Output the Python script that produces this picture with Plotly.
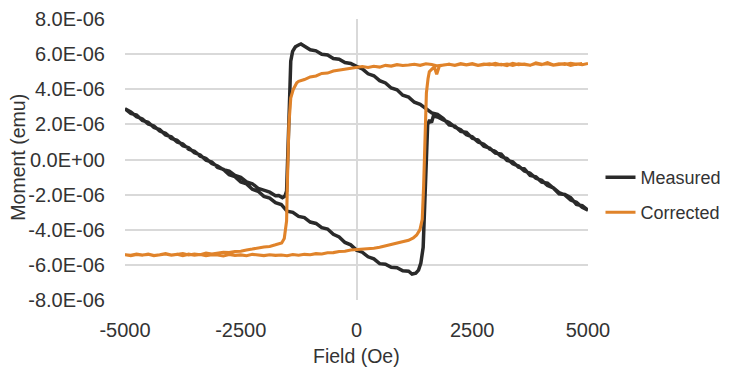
import plotly.graph_objects as go

# ---- data (moment in units of 1E-6 emu) ----
# Measured: branch with field sweeping down from +5000 Oe to -5000 Oe
meas_down_field = [
    5000, 4875, 4750, 4625, 4500, 4375, 4250, 4125, 4000, 3875, 3750, 3625, 3500, 3375,
    3250, 3125, 3000, 2875, 2750, 2625, 2500, 2375, 2250, 2125, 2000, 1875, 1750, 1625,
    1500, 1375, 1250, 1125, 1000, 875, 750, 625, 500, 375, 250, 125, 0, -125, -250,
    -375, -500, -625, -750, -875, -1000, -1125, -1200, -1250, -1320, -1380, -1420,
    -1450, -1480, -1510, -1545, -1600, -1680, -1750, -1875, -2000, -2125, -2250, -2375,
    -2500, -2625, -2750, -2875, -3000, -3125, -3250, -3375, -3500, -3625, -3750, -3875,
    -4000, -4125, -4250, -4375, -4500, -4625, -4750, -4875, -5000,
]
meas_down_moment = [
    -2.89, -2.63, -2.56, -2.17, -1.99, -1.95, -1.62, -1.35, -1.29, -0.99, -0.91, -0.53,
    -0.44, -0.14, -0.06, 0.31, 0.37, 0.65, 0.75, 1.11, 1.21, 1.54, 1.60, 1.90, 1.97, 2.33,
    2.57, 2.65, 2.90, 3.14, 3.26, 3.55, 3.66, 3.97, 4.07, 4.36, 4.49, 4.77, 4.88, 5.16,
    5.30, 5.47, 5.52, 5.71, 5.75, 5.95, 5.99, 6.19, 6.25, 6.45, 6.58, 6.52, 6.42, 6.15,
    5.60, 3.00, 0.00, -1.80, -2.08, -2.17, -2.05, -2.06, -1.86, -1.76, -1.64, -1.38,
    -1.28, -1.02, -0.91, -0.66, -0.58, -0.37, -0.23, 0.06, 0.19, 0.47, 0.58, 0.88, 1.00,
    1.29, 1.40, 1.71, 1.82, 2.12, 2.22, 2.53, 2.62, 2.89,
]
# Measured: branch with field sweeping up from -5000 Oe to +5000 Oe
meas_up_field = [
    -4875, -4750, -4625, -4500, -4375, -4250, -4125, -4000, -3875, -3750, -3625, -3500,
    -3375, -3250, -3125, -3000, -2875, -2750, -2625, -2500, -2375, -2250, -2125, -2000,
    -1875, -1750, -1625, -1500, -1375, -1250, -1125, -1000, -875, -750, -625, -500, -375,
    -250, -125, 0, 125, 250, 375, 500, 625, 750, 875, 1000, 1125, 1200, 1280, 1340, 1390,
    1440, 1480, 1510, 1537, 1580, 1620, 1660, 1750, 1875, 2000, 2125, 2250, 2375, 2500,
    2625, 2750, 2875, 3000, 3125, 3250, 3375, 3500, 3625, 3750, 3875, 4000, 4125, 4250,
    4375, 4500, 4625, 4750, 4875, 5000,
]
meas_up_moment = [
    2.71, 2.44, 2.31, 2.02, 1.91, 1.62, 1.49, 1.20, 1.09, 0.79, 0.67, 0.38, 0.26, -0.04,
    -0.14, -0.45, -0.56, -0.86, -0.98, -1.28, -1.39, -1.69, -1.81, -2.10, -2.20, -2.46,
    -2.56, -2.94, -3.01, -3.24, -3.31, -3.56, -3.64, -3.88, -3.96, -4.26, -4.41, -4.72,
    -4.86, -5.16, -5.28, -5.54, -5.66, -5.93, -5.96, -6.14, -6.16, -6.34, -6.36, -6.52,
    -6.47, -6.30, -5.90, -5.00, -2.00, 0.50, 1.99, 2.25, 2.10, 2.47, 2.42, 2.26, 2.11,
    1.84, 1.70, 1.41, 1.29, 1.00, 0.87, 0.60, 0.46, 0.17, 0.05, -0.24, -0.37, -0.65,
    -0.78, -1.07, -1.19, -1.48, -1.61, -1.89, -2.02, -2.31, -2.44, -2.72, -2.89,
]

# Corrected: field sweeping down from +5000 Oe to -5000 Oe
corr_down_field = [
    5000, 4875, 4750, 4625, 4500, 4375, 4250, 4125, 4000, 3875, 3750, 3625, 3500, 3375,
    3250, 3125, 3000, 2875, 2750, 2625, 2500, 2375, 2250, 2125, 2000, 1875, 1750, 1625,
    1500, 1375, 1250, 1125, 1000, 875, 750, 625, 500, 375, 250, 125, 0, -125, -250, -375,
    -500, -625, -750, -875, -1000, -1125, -1250, -1290, -1365, -1420, -1460, -1490,
    -1510, -1560, -1616, -1750, -1875, -2000, -2125, -2250, -2375, -2500, -2625, -2750,
    -2875, -3000, -3125, -3250, -3375, -3500, -3625, -3750, -3875, -4000, -4125, -4250,
    -4375, -4500, -4625, -4750, -4875, -5000,
]
corr_down_moment = [
    5.47, 5.40, 5.44, 5.36, 5.46, 5.41, 5.37, 5.45, 5.42, 5.50, 5.36, 5.44, 5.40, 5.47,
    5.35, 5.42, 5.38, 5.45, 5.40, 5.36, 5.44, 5.39, 5.46, 5.37, 5.42, 5.38, 5.33, 5.41,
    5.45, 5.36, 5.42, 5.38, 5.35, 5.40, 5.32, 5.36, 5.26, 5.31, 5.24, 5.29, 5.24, 5.18,
    5.14, 5.05, 5.04, 4.92, 4.90, 4.76, 4.70, 4.55, 4.45, 4.37, 3.99, 3.50, 2.00, -1.00,
    -3.50, -4.50, -4.75, -4.86, -4.95, -4.98, -5.06, -5.10, -5.15, -5.22, -5.24, -5.30,
    -5.28, -5.35, -5.38, -5.33, -5.42, -5.38, -5.44, -5.36, -5.41, -5.45, -5.38, -5.43,
    -5.47, -5.40, -5.44, -5.39, -5.46, -5.42,
]
# Corrected: field sweeping up from -5000 Oe to +5000 Oe
corr_up_field = [
    -4875, -4750, -4625, -4500, -4375, -4250, -4125, -4000, -3875, -3750, -3625, -3500,
    -3375, -3250, -3125, -3000, -2875, -2750, -2625, -2500, -2375, -2250, -2125, -2000,
    -1875, -1750, -1625, -1500, -1375, -1250, -1125, -1000, -875, -750, -625, -500, -375,
    -250, -125, 0, 125, 250, 375, 500, 625, 750, 875, 1000, 1125, 1227, 1300, 1371, 1420,
    1450, 1480, 1510, 1545, 1573, 1623, 1680, 1732, 1790, 1875, 2000, 2125, 2250, 2375,
    2500, 2625, 2750, 2875, 3000, 3125, 3250, 3375, 3500, 3625, 3750, 3875, 4000, 4125,
    4250, 4375, 4500, 4625, 4750, 4875, 5000,
]
corr_up_moment = [
    -5.48, -5.41, -5.45, -5.38, -5.47, -5.42, -5.36, -5.44, -5.40, -5.48, -5.39, -5.45,
    -5.41, -5.47, -5.42, -5.44, -5.49, -5.41, -5.46, -5.43, -5.48, -5.40, -5.45, -5.47,
    -5.42, -5.46, -5.44, -5.48, -5.41, -5.45, -5.40, -5.42, -5.36, -5.38, -5.31, -5.30,
    -5.24, -5.22, -5.15, -5.13, -5.10, -5.06, -5.05, -5.00, -4.92, -4.86, -4.80, -4.68,
    -4.60, -4.46, -4.30, -3.99, -3.40, -1.50, 1.50, 3.80, 4.60, 5.00, 5.13, 5.28, 4.85,
    5.32, 5.38, 5.42, 5.36, 5.44, 5.39, 5.46, 5.37, 5.43, 5.40, 5.47, 5.38, 5.44, 5.36,
    5.45, 5.41, 5.37, 5.46, 5.40, 5.52, 5.38, 5.45, 5.41, 5.48, 5.42, 5.47,
]

x_ticks = [-5000, -2500, 0, 2500, 5000]
y_ticks = [-8e-6, -6e-6, -4e-6, -2e-6, 0, 2e-6, 4e-6, 6e-6, 8e-6]
y_tick_text = ["-8.0E-06", "-6.0E-06", "-4.0E-06", "-2.0E-06", "0.0E+00",
               "2.0E-06", "4.0E-06", "6.0E-06", "8.0E-06"]

FONT = "Liberation Sans, Arial, sans-serif"
TEXT = "#333333"
GRID = "#d9d9d9"
TICK_FS = 20
LEG_FS = 18
TITLE_FS = 19.5

meas_x = meas_down_field + meas_up_field
meas_y = [v * 1e-6 for v in meas_down_moment + meas_up_moment]
corr_x = corr_down_field + corr_up_field
corr_y = [v * 1e-6 for v in corr_down_moment + corr_up_moment]

fig = go.Figure()
fig.add_trace(go.Scatter(
    x=meas_x, y=meas_y, mode="lines", name="Measured",
    line=dict(color="#2a2a2a", width=3.5), legend="legend",
))
fig.add_trace(go.Scatter(
    x=corr_x, y=corr_y, mode="lines", name="Corrected",
    line=dict(color="#e0832a", width=3.1), legend="legend2",
))

# the page adds an 8 px body margin, so the figure is 8 px smaller than the window
fig.update_layout(
    width=722, height=364,
    margin=dict(l=117, r=142, t=11, b=72, autoexpand=False),
    paper_bgcolor="white", plot_bgcolor="white",
    font=dict(family=FONT, size=LEG_FS, color=TEXT),
    showlegend=True,
    legend=dict(x=1.027, y=0.436, xanchor="left", yanchor="middle",
                font=dict(size=LEG_FS, color=TEXT), bgcolor="rgba(0,0,0,0)"),
    legend2=dict(x=1.027, y=0.311, xanchor="left", yanchor="middle",
                 font=dict(size=LEG_FS, color=TEXT), bgcolor="rgba(0,0,0,0)"),
    xaxis=dict(
        range=[-5000, 5000], tickvals=x_ticks, ticktext=[str(v) for v in x_ticks],
        showgrid=False, zeroline=True, zerolinecolor=GRID, zerolinewidth=2,
        showline=False, ticks="outside", ticklen=12, tickcolor="rgba(0,0,0,0)",
        automargin=False, tickfont=dict(size=TICK_FS, color=TEXT),
    ),
    yaxis=dict(
        range=[-8e-6, 8e-6], tickvals=y_ticks, ticktext=y_tick_text,
        showgrid=True, gridcolor=GRID, gridwidth=2,
        zeroline=True, zerolinecolor=GRID, zerolinewidth=2,
        showline=False, ticks="outside", ticklen=15, tickcolor="rgba(0,0,0,0)",
        automargin=False, tickfont=dict(size=TICK_FS, color=TEXT),
    ),
    annotations=[
        dict(text="Field (Oe)", xref="paper", yref="paper", x=0.5, y=-0.2,
             xanchor="center", yanchor="middle", showarrow=False,
             font=dict(size=TITLE_FS, color=TEXT)),
        dict(text="Moment (emu)", xref="paper", yref="paper", x=-0.233, y=0.507,
             xanchor="center", yanchor="middle", showarrow=False, textangle=-90,
             font=dict(size=TITLE_FS, color=TEXT)),
    ],
)

fig.write_html("out.html")
